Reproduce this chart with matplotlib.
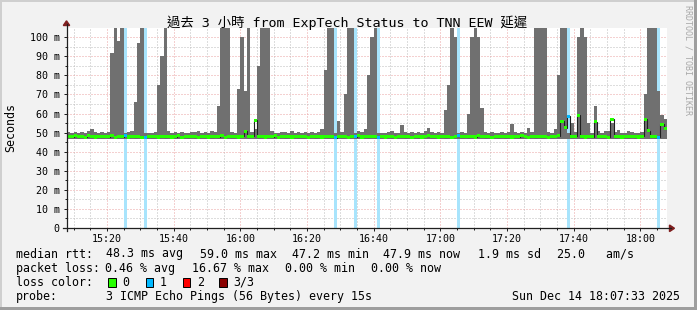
import matplotlib
matplotlib.use('Agg')
import matplotlib.pyplot as plt
from matplotlib.ticker import MultipleLocator, FixedLocator, FuncFormatter
from matplotlib.patches import Rectangle, Polygon
from matplotlib.lines import Line2D
import numpy as np

# ---------------- data (one bin per minute, starting 15:08) ----------------
start_hhmm = (15, 8)
n_minutes = 180

smoke_hi = [
    50.5, 49.8, 50.2, 49.6, 50.4, 49.9, 50.8, 51.7, 50.1, 49.7,
    50.3, 49.8, 50.5, 92, 110, 98, 110, 49.9, 50.2, 51.0,
    66, 97, 110, 49.8, 50.0, 49.6, 50.3, 75, 90, 110,
    51.0, 49.8, 50.2, 49.6, 50.4, 50.0, 49.7, 50.5, 50.1, 51.0,
    49.8, 50.3, 49.9, 51.0, 50.2, 64, 110, 110, 110, 50.5,
    50.0, 73, 100, 72, 110, 50.4, 52.0, 85, 110, 110,
    110, 51.0, 50.0, 49.7, 50.3, 50.1, 49.8, 50.6, 49.9, 50.2,
    50.0, 50.4, 49.7, 50.2, 49.9, 50.5, 52.0, 83, 110, 110,
    49.6, 56, 50.5, 70, 105, 110, 49.8, 51.0, 50.2, 52.0,
    80, 100, 110, 49.9, 50.0, 49.8, 50.3, 50.6, 49.9, 50.0,
    54, 50.2, 49.8, 50.5, 50.0, 50.3, 49.7, 50.8, 52.5, 50.1,
    50.0, 50.4, 49.9, 62, 75, 110, 100, 50.0, 50.3, 50.0,
    60, 100, 110, 100, 63, 50.4, 49.9, 50.3, 50.0, 49.8,
    50.2, 49.7, 50.4, 54.5, 50.1, 49.9, 50.5, 50.0, 52.5, 50.2,
    110, 110, 110, 110, 50.5, 50.0, 52, 80, 110, 110,
    50.0, 55, 50.2, 100, 105, 100, 55, 50.0, 64, 50.6,
    50.0, 50.6, 50.8, 55, 50.2, 51.5, 50.0, 49.8, 51.0, 50.3,
    50.0, 49.8, 50.4, 70, 110, 110, 110, 72, 59, 57,
]

smoke_lo = [
    46.6, 46.8, 46.5, 46.7, 46.4, 46.9, 46.6, 46.5, 46.8, 46.7,
    46.5, 46.6, 46.8, 46.4, 46.7, 46.5, 46.6, 46.9, 46.5, 46.7,
    46.6, 46.4, 46.8, 46.5, 46.7, 46.6, 46.5, 46.8, 46.4, 46.6,
    46.7, 46.5, 46.6, 46.8, 46.4, 46.7, 46.5, 46.6, 46.8, 46.5,
    46.7, 46.6, 46.4, 46.8, 46.5, 46.6, 46.7, 46.5, 46.6, 46.8,
    46.5, 46.7, 46.6, 46.4, 46.8, 46.5, 46.6, 46.7, 46.5, 46.6,
    46.8, 46.5, 46.7, 46.6, 46.4, 46.8, 46.5, 46.6, 46.7, 46.5,
    46.6, 46.8, 46.4, 46.7, 46.5, 46.6, 46.8, 46.5, 46.7, 46.6,
    46.4, 46.7, 46.5, 46.6, 46.8, 46.5, 46.7, 46.6, 46.4, 46.8,
    46.5, 46.6, 46.7, 46.5, 46.6, 46.8, 46.4, 46.7, 46.5, 46.6,
    46.8, 46.5, 46.7, 46.6, 46.4, 46.8, 46.5, 46.6, 46.7, 46.5,
    46.6, 46.8, 46.4, 46.7, 46.5, 46.6, 46.8, 46.5, 46.7, 46.6,
    46.5, 46.7, 46.6, 46.4, 46.8, 46.5, 46.6, 46.7, 46.5, 46.6,
    46.8, 46.5, 46.7, 46.6, 46.4, 46.8, 46.5, 46.6, 46.7, 46.5,
    46.6, 46.8, 46.4, 46.7, 46.5, 46.6, 46.8, 46.5, 46.7, 46.6,
    46.5, 46.7, 46.6, 46.4, 46.8, 46.5, 46.6, 46.7, 46.5, 46.6,
    46.8, 46.5, 46.7, 46.6, 46.4, 46.8, 46.5, 46.6, 46.7, 46.5,
    46.6, 46.8, 46.4, 46.7, 46.5, 46.6, 46.8, 46.5, 46.7, 46.6,
]

median = [
    48.2, 47.9, 48.4, 47.8, 48.1, 47.6, 48.3, 48.0, 47.7, 48.2,
    47.9, 48.1, 47.8, 48.3, 47.6, 48.0, 47.8, 48.3, 47.7, 48.1,
    47.9, 48.2, 47.6, 47.5, 48.0, 47.8, 48.2, 47.7, 48.0, 47.9,
    48.1, 47.7, 47.9, 48.3, 47.6, 48.0, 47.8, 48.2, 47.9, 47.6,
    48.0, 48.2, 47.7, 47.9, 48.1, 47.8, 48.4, 47.6, 48.0, 47.9,
    48.1, 47.7, 48.2, 50.8, 47.9, 48.0, 56.5, 47.8, 48.1, 47.7,
    48.0, 47.9, 48.3, 47.6, 48.1, 47.8, 48.0, 47.7, 48.2, 47.9,
    47.8, 48.1, 47.6, 48.0, 47.9, 48.2, 47.7, 48.0, 47.8, 48.1,
    47.2, 48.0, 47.8, 48.2, 47.6, 48.0, 47.9, 48.3, 47.7, 48.0,
    47.8, 48.1, 47.9, 47.5, 48.0, 47.7, 48.2, 47.9, 47.6, 48.0,
    48.1, 47.8, 48.0, 47.6, 48.2, 47.9, 47.7, 48.0, 48.3, 47.8,
    48.0, 47.7, 48.1, 47.9, 48.2, 47.6, 48.0, 48.3, 47.8, 48.0,
    47.9, 48.2, 47.7, 48.4, 48.0, 47.8, 48.1, 47.6, 48.0, 47.9,
    48.2, 47.8, 48.0, 47.7, 48.1, 47.9, 48.3, 48.0, 47.6, 48.1,
    47.9, 48.2, 47.8, 48.0, 47.6, 47.9, 48.1, 48.3, 56.0, 52.5,
    58.5, 47.8, 48.0, 59.0, 48.0, 47.7, 48.1, 47.9, 55.7, 48.0,
    47.8, 48.1, 47.6, 57.0, 47.9, 48.0, 47.7, 48.2, 47.8, 48.0,
    47.9, 47.7, 48.1, 57.0, 51.0, 48.0, 47.8, 47.5, 54.5, 52.0,
]

loss_minutes = [17, 23, 80, 86, 93, 117, 150, 177]   # 1 of 3 pings lost

loss_colors = ['#26ff00', '#00b8ff', '#ff0000', '#8a0000']
loss_labels = ['0', '1', '2', '3/3']

legend_rows = [
    [("median rtt:", 15.5), ("48.3 ms avg", 105.5), ("59.0 ms max", 199.5),
     ("47.2 ms min", 292.5), ("47.9 ms now", 383.0), ("1.9 ms sd", 478.3),
     ("25.0   am/s", 557.3)],
    [("packet loss:", 15.5), ("0.46 % avg", 105.0), ("16.67 % max", 191.7),
     ("0.00 % min", 285.0), ("0.00 % now", 370.7)],
]
probe_text = "3 ICMP Echo Pings (56 Bytes) every 15s"
stamp_text = "Sun Dec 14 18:07:33 2025"
title_text = "過去 3 小時 from ExpTech Status to TNN EEW 延遲"

# ---------------- figure ----------------
W, H = 697, 310
BG = '#f2f2f2'
MONO = 'DejaVu Sans Mono'
fig = plt.figure(figsize=(W / 100, H / 100), dpi=100, facecolor=BG)


def fx(x):
    return x / W


def fy(y):
    return 1 - y / H


ax_left, ax_right, ax_top, ax_bot = 67, 667, 28, 228
ax = fig.add_axes([fx(ax_left), fy(ax_bot), (ax_right - ax_left) / W, (ax_bot - ax_top) / H])
ax.set_facecolor('white')
ymax = 104.85
ax.set_xlim(0, n_minutes)
ax.set_ylim(0, ymax)

t = np.arange(n_minutes)
hi = np.array(smoke_hi)
lo = np.array(smoke_lo)
med = np.array(median)
loss = np.zeros(n_minutes, dtype=int)
loss[loss_minutes] = 1

# loss background bars
lm = loss > 0
ax.bar(t[lm], ymax, bottom=0, width=1.0, align='edge', color='#a8e4fc',
       linewidth=0, zorder=1)
# smoke
ax.bar(t, hi - lo, bottom=lo, width=1.0, align='edge', color='#707070',
       linewidth=0, zorder=2)
# median line (dark) + loss coloured band
edges = np.arange(n_minutes + 1)
ax.stairs(med, edges, baseline=None, color='#202020', linewidth=0.8, zorder=3)
band_cols = [loss_colors[k] for k in loss]
ax.bar(t, 1.6, bottom=med - 0.8, width=1.0, align='edge', color=band_cols,
       linewidth=0, zorder=4)

# ticks / grid
start_min = start_hhmm[0] * 60 + start_hhmm[1]
ax.xaxis.set_major_locator(FixedLocator(np.arange(12, n_minutes, 20)))
ax.xaxis.set_minor_locator(FixedLocator(np.arange(2, n_minutes, 5)))
ax.xaxis.set_major_formatter(FuncFormatter(
    lambda v, p: f"{int(start_min + v) // 60:02d}:{int(start_min + v) % 60:02d}"))
ax.yaxis.set_major_locator(MultipleLocator(10))
ax.yaxis.set_minor_locator(MultipleLocator(5))
ax.yaxis.set_major_formatter(FuncFormatter(lambda v, p: "0" if v == 0 else f"{int(round(v))} m"))

ax.set_axisbelow(True)
ax.grid(which='major', color='#eba3a3', linestyle=(0, (1, 2)), linewidth=0.72)
ax.grid(which='minor', color='#bdbdbd', linestyle=(0, (1, 2)), linewidth=0.72)

ax.tick_params(which='both', direction='out', color='#1f1f1f', width=0.72)
ax.tick_params(which='major', length=2.2)
ax.tick_params(which='minor', length=1.5)
ax.tick_params(axis='y', which='both', pad=3.2, labelsize=7.2)
ax.tick_params(axis='x', which='both', pad=2.3, labelsize=7.2)
for lab in ax.get_xticklabels() + ax.get_yticklabels():
    lab.set_family(MONO)
for s in ax.spines.values():
    s.set_visible(False)

# axis lines with arrows
AX_COL = '#1f1f1f'
ARROW = '#801f1f'
fig.add_artist(Line2D([fx(66.5), fx(66.5)], [fy(231), fy(24)], color=AX_COL, lw=0.9,
                      transform=fig.transFigure))
fig.add_artist(Line2D([fx(63), fx(671)], [fy(228.3), fy(228.3)], color=AX_COL, lw=0.9,
                      transform=fig.transFigure))
fig.add_artist(Polygon([[fx(63.3), fy(25.5)], [fx(69.7), fy(25.5)], [fx(66.5), fy(20.8)]],
                       closed=True, color=ARROW, transform=fig.transFigure))
fig.add_artist(Polygon([[fx(669.5), fy(225.0)], [fx(669.5), fy(231.6)], [fx(674.5), fy(228.3)]],
                       closed=True, color=ARROW, transform=fig.transFigure))

# bevel border
fig.add_artist(Rectangle((0, fy(2)), 1, 2 / H, color='#cfcfcf', transform=fig.transFigure, lw=0))
fig.add_artist(Rectangle((0, 0), 2 / W, 1, color='#cfcfcf', transform=fig.transFigure, lw=0))
fig.add_artist(Rectangle((0, 0), 1, 3 / H, color='#9e9e9e', transform=fig.transFigure, lw=0))
fig.add_artist(Rectangle((fx(W - 3), 0), 3 / W, 1, color='#9e9e9e', transform=fig.transFigure, lw=0))

# title
fig.text(fx(347.5), fy(26.7), title_text, ha='center', va='baseline', fontsize=9.6,
         family=[MONO, 'Noto Sans CJK TC'], color='black')
# y label
fig.text(fx(10.5), fy(127), "Seconds", rotation=90, ha='center', va='center',
         fontsize=8.4, family=MONO)
# watermark
fig.text(fx(688), fy(60), "RRDTOOL / TOBI OETIKER", rotation=270, ha='center', va='center',
         fontsize=6.0, family=MONO, color='#a8a8a8')

# legend
LFS = 8.4
row_base = [257.5, 271.7, 285.9, 300.1]
for r, row in enumerate(legend_rows):
    for txt, x in row:
        fig.text(fx(x), fy(row_base[r]), txt, ha='left', va='baseline', fontsize=LFS, family=MONO)

fig.text(fx(15.5), fy(row_base[2]), "loss color:", ha='left', va='baseline', fontsize=LFS, family=MONO)
box_x = [108.3, 145.7, 182.7, 219.3]
for col, lab, bx in zip(loss_colors, loss_labels, box_x):
    fig.add_artist(Rectangle((fx(bx), fy(286.7)), 7.6 / W, 8.3 / H, facecolor=col,
                             edgecolor='black', lw=0.7, transform=fig.transFigure))
    fig.text(fx(bx + 14.0), fy(row_base[2]), lab, ha='left', va='baseline', fontsize=LFS, family=MONO)

fig.text(fx(15.5), fy(row_base[3]), "probe:", ha='left', va='baseline', fontsize=LFS, family=MONO)
fig.text(fx(106.0), fy(row_base[3]), probe_text, ha='left', va='baseline', fontsize=LFS, family=MONO)
fig.text(fx(680.5), fy(row_base[3]), stamp_text, ha='right', va='baseline', fontsize=LFS, family=MONO)

fig.savefig('out.png', dpi=100, facecolor=BG)
